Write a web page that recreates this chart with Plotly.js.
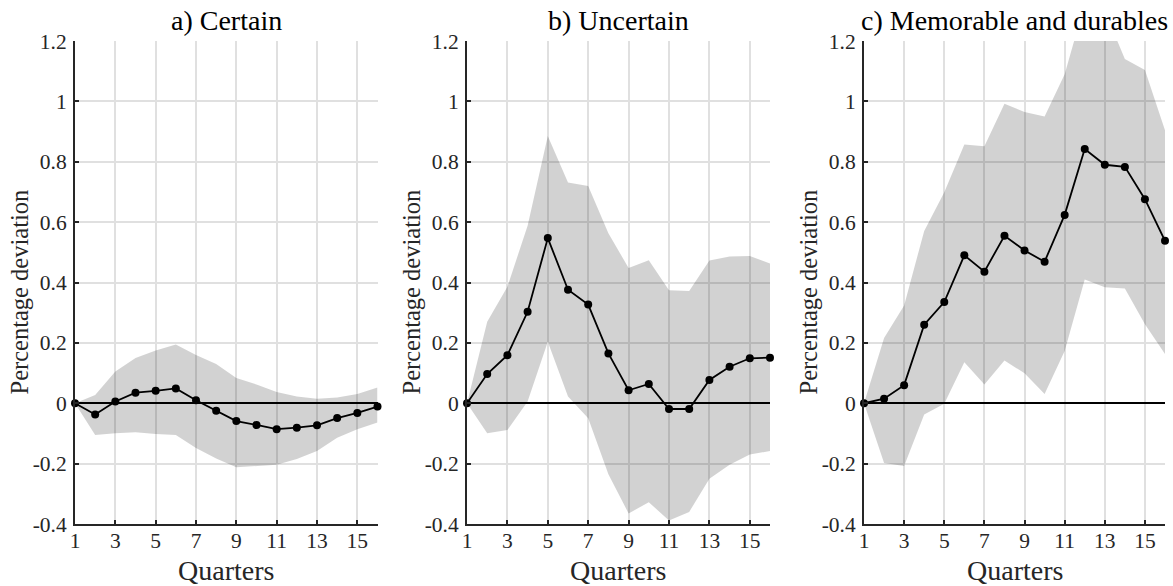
<!DOCTYPE html>
<html>
<head>
<meta charset="utf-8">
<script src="https://cdn.plot.ly/plotly-3.0.1.min.js"></script>
<style>body{margin:0;background:#fff;}</style>
</head>
<body>
<div id="chart" style="width:1173px;height:586px"></div>
<script>
const quarters = [1,2,3,4,5,6,7,8,9,10,11,12,13,14,15,16];

const certainIRF   = [0,-0.037,0.006,0.035,0.041,0.049,0.010,-0.025,-0.059,-0.072,-0.086,-0.081,-0.073,-0.049,-0.032,-0.011];
const certainUpper = [0,0.027,0.105,0.150,0.175,0.195,0.160,0.130,0.084,0.062,0.037,0.022,0.015,0.019,0.031,0.052];
const certainLower = [0,-0.105,-0.099,-0.096,-0.102,-0.105,-0.148,-0.183,-0.212,-0.207,-0.204,-0.185,-0.158,-0.114,-0.086,-0.064];

const uncertainIRF   = [0,0.097,0.159,0.303,0.547,0.376,0.327,0.165,0.043,0.064,-0.019,-0.019,0.077,0.121,0.149,0.151];
const uncertainUpper = [0,0.270,0.386,0.588,0.885,0.731,0.720,0.563,0.448,0.474,0.374,0.372,0.473,0.486,0.488,0.463];
const uncertainLower = [0,-0.099,-0.089,0.006,0.204,0.022,-0.050,-0.235,-0.365,-0.328,-0.388,-0.360,-0.250,-0.204,-0.170,-0.158];

const memorableIRF   = [0,0.015,0.060,0.260,0.335,0.490,0.436,0.555,0.506,0.469,0.624,0.842,0.790,0.783,0.676,0.538];
const memorableUpper = [0,0.216,0.324,0.571,0.699,0.857,0.851,0.992,0.965,0.950,1.090,1.324,1.300,1.140,1.104,0.904];
const memorableLower = [0,-0.198,-0.208,-0.037,-0.002,0.136,0.062,0.142,0.099,0.031,0.173,0.410,0.384,0.380,0.262,0.163];

const panelTitles = ['a) Certain','b) Uncertain','c) Memorable and durables'];
const yTitle = 'Percentage deviation';
const xTitle = 'Quarters';
const yTickVals = [-0.4,-0.2,0,0.2,0.4,0.6,0.8,1,1.2];
const yTickText = ['-0.4','-0.2','0','0.2','0.4','0.6','0.8','1','1.2'];
const xTickVals = [1,3,5,7,9,11,13,15];
const xTickText = ['1','3','5','7','9','11','13','15'];

const panels = [
  {irf: certainIRF, up: certainUpper, lo: certainLower},
  {irf: uncertainIRF, up: uncertainUpper, lo: uncertainLower},
  {irf: memorableIRF, up: memorableUpper, lo: memorableLower}
];

const W = 1173, H = 586;
const xDomPx = [[75, 377.5], [467, 770], [864, 1165]];
const yDomPx = [41, 524];
const SERIF = 'Liberation Serif';

const traces = [];
const annotations = [];
const layout = {
  width: W, height: H,
  margin: {l: 0, r: 0, t: 0, b: 0},
  paper_bgcolor: '#ffffff',
  plot_bgcolor: '#ffffff',
  showlegend: false
};

panels.forEach((p, i) => {
  const n = i === 0 ? '' : String(i + 1);
  const xa = 'x' + n, ya = 'y' + n;
  traces.push({
    x: quarters, y: p.lo, xaxis: xa, yaxis: ya, type: 'scatter', mode: 'lines',
    line: {width: 0, color: 'rgba(0,0,0,0)'}, hoverinfo: 'skip'
  });
  traces.push({
    x: quarters, y: p.up, xaxis: xa, yaxis: ya, type: 'scatter', mode: 'lines',
    line: {width: 0, color: 'rgba(0,0,0,0)'}, fill: 'tonexty',
    fillcolor: 'rgba(0,0,0,0.175)', hoverinfo: 'skip'
  });
  traces.push({
    x: quarters, y: p.irf, xaxis: xa, yaxis: ya, type: 'scatter', mode: 'lines+markers',
    line: {width: 1.8, color: '#000000'},
    marker: {size: 8, color: '#000000'},
    cliponaxis: false
  });

  const xd = [xDomPx[i][0] / W, xDomPx[i][1] / W];
  const yd = [1 - yDomPx[1] / H, 1 - yDomPx[0] / H];
  layout['xaxis' + n] = {
    domain: xd, anchor: ya, range: [1, 16],
    tickvals: xTickVals, ticktext: xTickText,
    ticks: 'inside', ticklen: 4, tickwidth: 1.5, tickcolor: '#262626',
    showline: true, linecolor: '#262626', linewidth: 2,
    showgrid: true, gridcolor: '#e0e0e0', gridwidth: 1.5,
    zeroline: false, fixedrange: true, ticklabelstandoff: -4,
    tickfont: {family: SERIF, size: 21.5, color: '#262626'}
  };
  layout['yaxis' + n] = {
    domain: yd, anchor: xa, range: [-0.4, 1.2],
    tickvals: yTickVals, ticktext: yTickText,
    ticks: 'inside', ticklen: 4, tickwidth: 1.5, tickcolor: '#262626',
    showline: true, linecolor: '#262626', linewidth: 2,
    showgrid: true, gridcolor: '#e0e0e0', gridwidth: 1.5,
    zeroline: true, zerolinecolor: '#000000', zerolinewidth: 2,
    fixedrange: true, ticklabelstandoff: 2,
    tickfont: {family: SERIF, size: 21.5, color: '#262626'}
  };
  const cx = (xd[0] + xd[1]) / 2;
  annotations.push({
    text: panelTitles[i], xref: 'paper', yref: 'paper', x: cx, y: 1 - 20.5 / H,
    xanchor: 'center', yanchor: 'middle', showarrow: false,
    font: {family: SERIF, size: 28, color: '#000000'}
  });
  annotations.push({
    text: xTitle, xref: 'paper', yref: 'paper', x: cx, y: 1 - 570 / H,
    xanchor: 'center', yanchor: 'middle', showarrow: false,
    font: {family: SERIF, size: 28, color: '#262626'}
  });
  annotations.push({
    text: yTitle, xref: 'paper', yref: 'paper', x: (xDomPx[i][0] - 56) / W, y: 1 - 292.5 / H,
    xanchor: 'center', yanchor: 'middle', showarrow: false, textangle: -90,
    font: {family: SERIF, size: 24.5, color: '#262626'}
  });
});
layout.annotations = annotations;

Plotly.newPlot('chart', traces, layout, {displayModeBar: false});
</script>
</body>
</html>
